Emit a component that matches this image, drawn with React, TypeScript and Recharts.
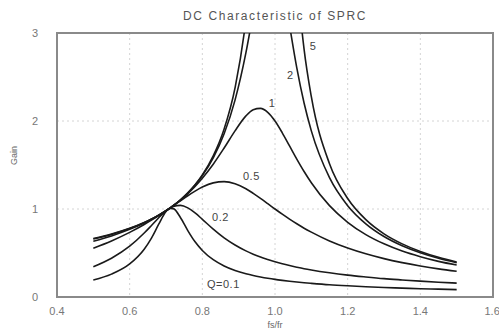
import React from 'react';
import {
  ComposedChart,
  Line,
  Scatter,
  XAxis,
  YAxis,
  CartesianGrid,
  ReferenceArea,
} from 'recharts';

// normalized switching frequency fs/fr
const fsfr = [
  0.5, 0.55, 0.6, 0.64, 0.66, 0.68, 0.7, 0.71, 0.72, 0.74, 0.76, 0.78, 0.8, 0.83, 0.86, 0.89,
  0.92, 0.94, 0.96, 0.98, 1.0, 1.02, 1.04, 1.06, 1.08, 1.1, 1.15, 1.2, 1.25, 1.3, 1.35, 1.4,
  1.45, 1.5,
];

// gain for each Q
const gainQ01 = [
  0.192, 0.26, 0.376, 0.543, 0.67, 0.827, 0.971, 1.007, 1.004, 0.901, 0.755, 0.627, 0.529,
  0.424, 0.353, 0.302, 0.265, 0.245, 0.228, 0.213, 0.2, 0.189, 0.179, 0.17, 0.162, 0.155,
  0.139, 0.127, 0.117, 0.108, 0.101, 0.094, 0.089, 0.084,
];
const gainQ02 = [
  0.343, 0.44, 0.577, 0.727, 0.813, 0.901, 0.978, 1.008, 1.029, 1.041, 1.013, 0.955, 0.883,
  0.771, 0.672, 0.591, 0.524, 0.487, 0.454, 0.426, 0.4, 0.377, 0.357, 0.339, 0.322, 0.307,
  0.275, 0.249, 0.228, 0.209, 0.194, 0.18, 0.168, 0.158,
];
const gainQ05 = [
  0.555, 0.637, 0.734, 0.824, 0.873, 0.925, 0.98, 1.008, 1.037, 1.094, 1.151, 1.203, 1.249,
  1.297, 1.311, 1.287, 1.23, 1.178, 1.121, 1.061, 1.0, 0.941, 0.885, 0.832, 0.782, 0.737,
  0.637, 0.557, 0.491, 0.436, 0.391, 0.353, 0.32, 0.292,
];
const gainQ1 = [
  0.633, 0.694, 0.769, 0.841, 0.883, 0.929, 0.98, 1.008, 1.038, 1.102, 1.175, 1.257, 1.35,
  1.509, 1.693, 1.888, 2.058, 2.128, 2.144, 2.099, 2.0, 1.866, 1.717, 1.567, 1.426, 1.299,
  1.038, 0.849, 0.709, 0.604, 0.522, 0.458, 0.405, 0.363,
];
const gainQ2 = [
  0.658, 0.711, 0.778, 0.845, 0.885, 0.93, 0.98, 1.008, 1.038, 1.105, 1.182, 1.272, 1.379,
  1.581, 1.855, 2.237, 2.776, 3.23, 3.706, 4.034, 4.0, 3.611, 3.089, 2.603, 2.204, 1.888,
  1.356, 1.038, 0.832, 0.688, 0.583, 0.503, 0.44, 0.39,
];
const gainQ5 = [
  0.665, 0.716, 0.781, 0.847, 0.886, 0.93, 0.98, 1.008, 1.038, 1.105, 1.183, 1.276, 1.387,
  1.603, 1.909, 2.376, 3.162, 4.054, 5.564, 8.138, 10.0, 7.504, 5.055, 3.653, 2.817, 2.276,
  1.514, 1.119, 0.879, 0.718, 0.604, 0.518, 0.451, 0.398,
];

const xTicks = [0.4, 0.6, 0.8, 1.0, 1.2, 1.4, 1.6];
const yTicks = [0, 1, 2, 3];

// curve annotations, in data units
const labelText = ['5', '2', '1', '0.5', '0.2', 'Q=0.1'];
const labelX = [1.105, 1.042, 0.992, 0.935, 0.85, 0.858];
const labelY = [2.85, 2.52, 2.2, 1.37, 0.91, 0.15];

const series = [
  { key: 'q01', values: gainQ01 },
  { key: 'q02', values: gainQ02 },
  { key: 'q05', values: gainQ05 },
  { key: 'q1', values: gainQ1 },
  { key: 'q2', values: gainQ2 },
  { key: 'q5', values: gainQ5 },
];

const rows = fsfr.map((x, i) => {
  const row: Record<string, number> = { x };
  series.forEach((s) => {
    row[s.key] = s.values[i];
  });
  return row;
});

const labels = labelText.map((text, i) => ({ x: labelX[i], y: labelY[i], text }));

const FONT = '"Liberation Sans", Arial, sans-serif';

function CurveLabel(props: any) {
  const { cx, cy, payload } = props;
  return (
    <text
      x={cx}
      y={cy}
      fill="#444"
      fontSize={11}
      fontFamily={FONT}
      textAnchor="middle"
      dominantBaseline="central"
      letterSpacing={0.5}
    >
      {payload.text}
    </text>
  );
}

export default function App() {
  return (
    <div style={{ position: 'absolute', left: 0, top: 0, width: 499, height: 331, background: '#fff' }}>
      <ComposedChart
        width={499}
        height={331}
        data={rows}
        margin={{ top: 33, right: 6, left: 0, bottom: 0 }}
      >
        <text
          x={275}
          y={20}
          textAnchor="middle"
          fontSize={12}
          fontFamily={FONT}
          fill="#555"
          letterSpacing={1.6}
        >
          DC Characteristic of SPRC
        </text>
        <CartesianGrid stroke="#d4d4d4" strokeDasharray="2 3" />
        <XAxis
          dataKey="x"
          type="number"
          domain={[0.4, 1.6]}
          ticks={xTicks}
          tickFormatter={(v: number) => v.toFixed(1)}
          axisLine={false}
          tickLine={false}
          tick={{ fill: '#777', fontSize: 11, fontFamily: FONT }}
          tickMargin={4}
          height={34}
          allowDataOverflow
          label={{
            value: 'fs/fr',
            position: 'insideBottom',
            offset: 3,
            fill: '#666',
            fontSize: 9,
            fontFamily: FONT,
          }}
        />
        <YAxis
          type="number"
          domain={[0, 3]}
          ticks={yTicks}
          axisLine={false}
          tickLine={false}
          tick={{ fill: '#777', fontSize: 11, fontFamily: FONT }}
          tickMargin={13}
          width={57}
          allowDataOverflow
          label={{
            value: 'Gain',
            angle: -90,
            position: 'insideLeft',
            offset: 14,
            fill: '#666',
            fontSize: 9,
            fontFamily: FONT,
          }}
        />
        <ReferenceArea
          x1={0.4}
          x2={1.6}
          y1={0}
          y2={3}
          fill="none"
          stroke="#8a8a8a"
          strokeWidth={2}
        />
        {series.map((s) => (
          <Line
            key={s.key}
            dataKey={s.key}
            type="monotone"
            stroke="#1a1a1a"
            strokeWidth={1.6}
            dot={false}
            activeDot={false}
            isAnimationActive={false}
          />
        ))}
        <Scatter data={labels} dataKey="y" shape={<CurveLabel />} isAnimationActive={false} />
      </ComposedChart>
    </div>
  );
}
